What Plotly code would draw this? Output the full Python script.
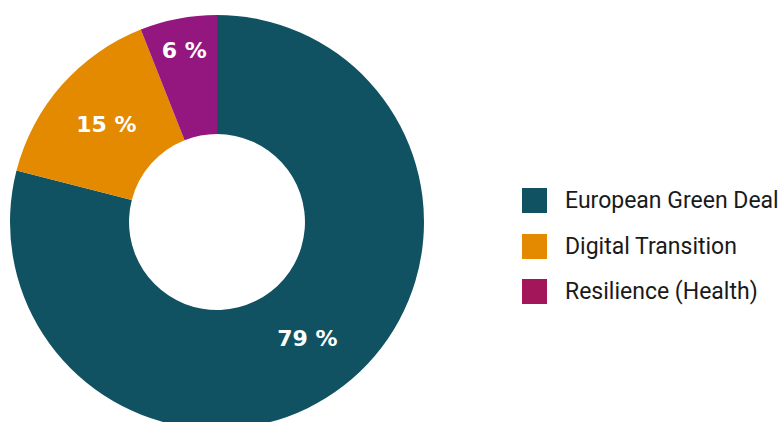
import plotly.graph_objects as go

# ── DATA ────────────────────────────────────────────────────────────────
categories = ['European Green Deal', 'Digital Transition', 'Resilience (Health)']
shares = [79, 15, 6]
slice_colors = ['#115262', '#e38a00', '#93177e']
legend_colors = ['#115262', '#e38a00', '#a3165a']

# figure is a little taller than the window: the ring runs off the bottom
W, H = 784, 429

fig = go.Figure()

fig.add_trace(go.Pie(
    labels=categories,
    values=shares,
    sort=False,
    direction='clockwise',
    rotation=0,
    hole=0.425,
    marker=dict(colors=slice_colors, line=dict(width=0)),
    texttemplate='%{value} %',
    textposition='inside',
    insidetextorientation='horizontal',
    textfont=dict(family='DejaVu Sans', size=22, color='white', weight='bold'),
    domain=dict(x=[10 / W, 424 / W], y=[0, 1 - 15 / H]),
    showlegend=False,
    hoverinfo='label+percent',
))

# ── MANUAL LEGEND (big square swatches) ──────────────────────────────────
row_y = [200.5, 246.5, 291.5]
for name, col, yc in zip(categories, legend_colors, row_y):
    fig.add_shape(type='rect', xref='paper', yref='paper',
                  x0=522 / W, x1=547 / W,
                  y0=1 - (yc + 12.5) / H, y1=1 - (yc - 12.5) / H,
                  fillcolor=col, line=dict(width=0))
    fig.add_annotation(text=name, xref='paper', yref='paper',
                       x=563 / W, y=1 - yc / H, xanchor='left', yanchor='middle',
                       showarrow=False,
                       font=dict(family='Roboto', size=23, color='#1a1a1a'))

fig.update_layout(
    width=W, height=H,
    margin=dict(l=0, r=0, t=0, b=0),
    paper_bgcolor='white',
    plot_bgcolor='white',
    uniformtext=dict(minsize=22, mode='show'),
)

fig.write_html('out.html',
               config={'displayModeBar': False},
               post_script="document.body.style.margin='0';"
                           "document.body.style.overflow='hidden';")
